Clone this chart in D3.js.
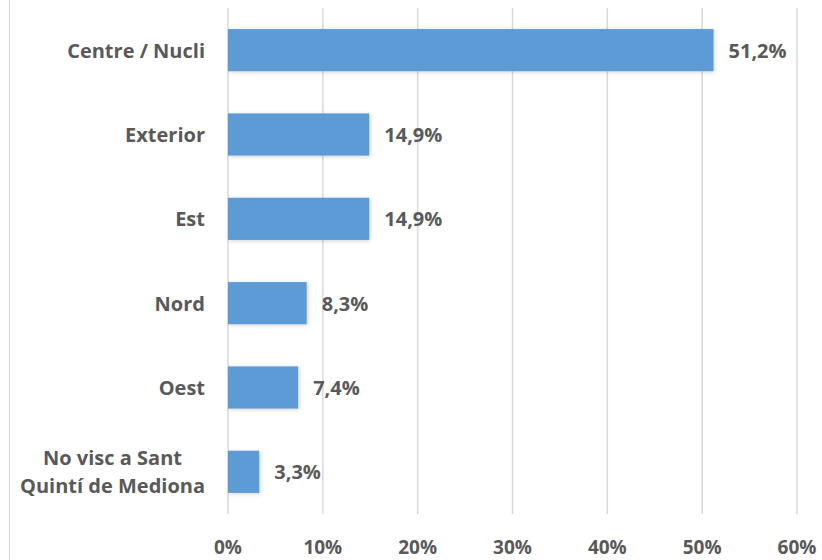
<!DOCTYPE html>
<html>
<head>
<meta charset="utf-8">
<script src="https://cdn.jsdelivr.net/npm/d3@7"></script>
<style>
  body { margin: 0; background: #fff; }
  text { font-family: "Open Sans", sans-serif; font-weight: bold; fill: #595959; }
</style>
</head>
<body>
<script>
var categories = ['Centre / Nucli', 'Exterior', 'Est', 'Nord', 'Oest', 'No visc a Sant\nQuintí de Mediona'];
var values = [51.2, 14.9, 14.9, 8.3, 7.4, 3.3];
var ticks = [0, 10, 20, 30, 40, 50, 60];

var width = 822;
var height = 560;

var svg = d3.select('body').append('svg')
  .attr('width', width)
  .attr('height', height);

// chart border (left edge visible)
svg.append('line')
  .attr('x1', 9.5).attr('x2', 9.5)
  .attr('y1', 0).attr('y2', height)
  .attr('stroke', '#d9d9d9')
  .attr('stroke-width', 1);

var x = d3.scaleLinear().domain([0, 60]).range([228, 797]);
var y = d3.scaleBand().domain(categories).range([8, 514]).paddingInner(0.5).paddingOuter(0.25);

var defs = svg.append('defs');
var shadow = defs.append('filter').attr('id', 'shadow')
  .attr('x', '-10%').attr('y', '-30%').attr('width', '130%').attr('height', '160%');
shadow.append('feDropShadow')
  .attr('dx', 1).attr('dy', 1).attr('stdDeviation', 2)
  .attr('flood-color', '#000').attr('flood-opacity', 0.18);

// gridlines
svg.append('g').selectAll('line')
  .data(ticks)
  .enter().append('line')
  .attr('x1', function(d) { return x(d); })
  .attr('x2', function(d) { return x(d); })
  .attr('y1', 8)
  .attr('y2', 514)
  .attr('stroke', '#d9d9d9')
  .attr('stroke-width', 1.5);

// tick labels
svg.append('g').selectAll('text')
  .data(ticks)
  .enter().append('text')
  .attr('x', function(d) { return x(d); })
  .attr('y', 547)
  .attr('text-anchor', 'middle')
  .attr('dominant-baseline', 'central')
  .attr('font-size', 19)
  .text(function(d) { return d + '%'; });

// bars
svg.append('g').selectAll('rect')
  .data(values)
  .enter().append('rect')
  .attr('x', x(0))
  .attr('y', function(d, i) { return y(categories[i]); })
  .attr('width', function(d) { return x(d) - x(0); })
  .attr('height', y.bandwidth())
  .attr('fill', '#5b9bd5')
  .attr('filter', 'url(#shadow)');

// value labels
svg.append('g').selectAll('text')
  .data(values)
  .enter().append('text')
  .attr('x', function(d) { return x(d) + 15; })
  .attr('y', function(d, i) { return y(categories[i]) + y.bandwidth() / 2; })
  .attr('dominant-baseline', 'central')
  .attr('font-size', 20)
  .text(function(d) { return d.toFixed(1).replace('.', ',') + '%'; });

// category labels (multi-line ones centred as a block, block right-aligned)
var labelRight = 205;
var lineH = 28;
categories.forEach(function(c) {
  var lines = c.split('\n');
  var g = svg.append('g');
  var cy = y(c) + y.bandwidth() / 2;
  var texts = lines.map(function(l, j) {
    return g.append('text')
      .attr('y', cy + (j - (lines.length - 1) / 2) * lineH)
      .attr('dominant-baseline', 'central')
      .attr('text-anchor', 'middle')
      .attr('font-size', 20)
      .text(l);
  });
  var maxW = d3.max(texts, function(t) { return t.node().getComputedTextLength(); });
  texts.forEach(function(t) { t.attr('x', labelRight - maxW / 2); });
});
</script>
</body>
</html>
